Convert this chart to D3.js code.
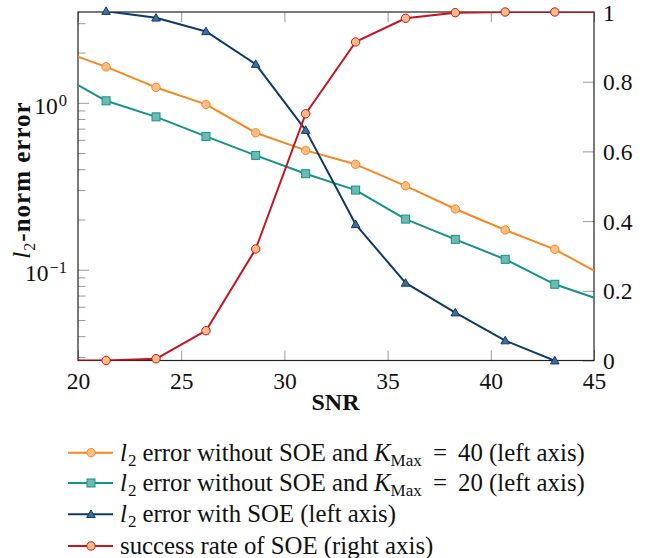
<!DOCTYPE html>
<html>
<head>
<meta charset="utf-8">
<script src="https://cdn.jsdelivr.net/npm/d3@7"></script>
<style>
  html, body { margin: 0; padding: 0; background: #fff; }
  svg { display: block; }
</style>
</head>
<body>
<svg id="chart" width="659" height="558"></svg>
<script>
// ---------------- data ----------------
// SNR positions (outer points lie outside the axis range and are clipped)
const snr = [18.95, 21.36, 23.78, 26.2, 28.61, 31.03, 33.45, 35.87, 38.28, 40.7, 43.1, 45.52];
const errK40 = [2.10, 1.643, 1.236, 0.978, 0.661, 0.519, 0.428, 0.318, 0.231, 0.173, 0.1325, 0.091];
const errK20 = [1.51, 1.028, 0.824, 0.629, 0.484, 0.376, 0.300, 0.201, 0.152, 0.1154, 0.0818, 0.0647];
const errSOE = [null, 3.54, 3.23, 2.677, 1.705, 0.686, 0.187, 0.0833, 0.0553, 0.0376, 0.0285, null];
const successRate = [0, 0, 0.005, 0.0855, 0.32, 0.708, 0.914, 0.982, 0.998, 1, 1, 1];

const xTicks = [20, 25, 30, 35, 40, 45];
const yLeftTicks = [0.1, 1];
const yLeftTickLabels = [["10", "\u22121"], ["10", "0"]];
const yRightTicks = [0, 0.2, 0.4, 0.6, 0.8, 1];
const yRightTickLabels = ["0", "0.2", "0.4", "0.6", "0.8", "1"];
const xLabel = "SNR";

const legendItems = [
  { key: "k40", parts: [["l", "it"], ["2", "sub"], [" error without SOE and ", ""], ["K", "it"], ["Max", "subr"], [" = 40", "eq"], [" (left axis)", ""]] },
  { key: "k20", parts: [["l", "it"], ["2", "sub"], [" error without SOE and ", ""], ["K", "it"], ["Max", "subr"], [" = 20", "eq"], [" (left axis)", ""]] },
  { key: "soe", parts: [["l", "it"], ["2", "sub"], [" error with SOE (left axis)", ""]] },
  { key: "rate", parts: [["success rate of SOE (right axis)", ""]] }
];

// ---------------- styles ----------------
const FONT = "'Liberation Serif', 'Times New Roman', Times, serif";
const styles = {
  k40:  { line: "#f7871f", fill: "#fbbd86", stroke: "#f7871f", marker: "circle", axis: "left" },
  k20:  { line: "#139486", fill: "#6cbab0", stroke: "#139486", marker: "square", axis: "left" },
  soe:  { line: "#0e3a6a", fill: "#3f6d9c", stroke: "#0e3a6a", marker: "triangle", axis: "left" },
  rate: { line: "#c8131f", fill: "#fbbd86", stroke: "#c8131f", marker: "circle", axis: "right" }
};

const L = 78, R = 594, T = 12, B = 360.5;

const svg = d3.select("#chart").style("font-family", FONT);
const x = d3.scaleLinear().domain([20, 45]).range([L, R]);
const yL = d3.scaleLog().domain([0.02858, 3.5]).range([B, T]);
const yR = d3.scaleLinear().domain([0, 1]).range([B, T]);

svg.append("defs").append("clipPath").attr("id", "clip")
  .append("rect").attr("x", L).attr("y", T).attr("width", R - L).attr("height", B - T);

function txt(sel) { return sel.style("font-family", FONT).attr("fill", "#111"); }

// ---------------- axes ----------------
const tickColor = "#9a9a9a";
function styleAxis(g) {
  g.attr("font-family", null).style("font-family", FONT);
  g.select(".domain").remove();
  g.selectAll(".tick line").attr("stroke", tickColor).attr("stroke-width", 1);
}

// bottom
const gB = svg.append("g").attr("transform", `translate(0,${B})`)
  .call(d3.axisBottom(x).tickValues(xTicks).tickSize(-10).tickPadding(12).tickFormat(d3.format("d")));
styleAxis(gB);
txt(gB.selectAll(".tick text")).style("font-size", "23.5px");
// top (ticks only)
const gT = svg.append("g").attr("transform", `translate(0,${T})`)
  .call(d3.axisTop(x).tickValues(xTicks).tickSize(-10).tickFormat(""));
styleAxis(gT);

// left log axis: minor + major ticks
const minorVals = [];
[0.01, 0.1, 1].forEach(dec => { for (let k = 2; k <= 9; k++) { const v = k * dec; if (v >= yL.domain()[0] && v <= yL.domain()[1]) minorVals.push(v); } });
const gLm = svg.append("g").attr("transform", `translate(${L},0)`)
  .call(d3.axisLeft(yL).tickValues(minorVals).tickSize(-7.5).tickFormat(""));
styleAxis(gLm);
const gL = svg.append("g").attr("transform", `translate(${L},0)`)
  .call(d3.axisLeft(yL).tickValues(yLeftTicks).tickSize(-11).tickFormat(""));
styleAxis(gL);
yLeftTicks.forEach((v, i) => {
  const t = txt(svg.append("text")).attr("x", 67).attr("y", yL(v) + 11)
    .attr("text-anchor", "end").style("font-size", "23.5px");
  t.append("tspan").text(yLeftTickLabels[i][0]);
  t.append("tspan").attr("dx", 1).attr("dy", -8).style("font-size", "16.5px").text(yLeftTickLabels[i][1]);
});

// right axis
const gR = svg.append("g").attr("transform", `translate(${R},0)`)
  .call(d3.axisRight(yR).tickValues(yRightTicks).tickSize(-11).tickPadding(9)
    .tickFormat((d, i) => yRightTickLabels[i]));
styleAxis(gR);
txt(gR.selectAll(".tick text")).style("font-size", "23.5px").attr("dy", "0.34em");

// frame
svg.append("rect").attr("x", L).attr("y", T).attr("width", R - L).attr("height", B - T)
  .attr("fill", "none").attr("stroke", "#222").attr("stroke-width", 1.2);

// ---------------- series ----------------
const series = [
  { key: "k40", values: errK40 },
  { key: "k20", values: errK20 },
  { key: "soe", values: errSOE },
  { key: "rate", values: successRate }
];

function drawMarker(g, type, cx, cy, st) {
  if (type === "circle") {
    g.append("circle").attr("cx", cx).attr("cy", cy).attr("r", 4.2)
      .attr("fill", st.fill).attr("stroke", st.stroke).attr("stroke-width", 1);
  } else if (type === "square") {
    g.append("rect").attr("x", cx - 4).attr("y", cy - 4).attr("width", 8).attr("height", 8)
      .attr("fill", st.fill).attr("stroke", st.stroke).attr("stroke-width", 1);
  } else {
    const s = 4.3;
    g.append("path").attr("d", `M${cx},${cy - s} L${cx + s},${cy + s * 0.75} L${cx - s},${cy + s * 0.75} Z`)
      .attr("fill", st.fill).attr("stroke", st.stroke).attr("stroke-width", 1);
  }
}

const lineLayer = svg.append("g").attr("clip-path", "url(#clip)");
const markerLayer = svg.append("g");
series.forEach(s => {
  const st = styles[s.key];
  const ys = st.axis === "left" ? yL : yR;
  const pts = snr.map((v, i) => [v, s.values[i]]);
  const line = d3.line().defined(d => d[1] !== null).x(d => x(d[0])).y(d => ys(d[1]));
  lineLayer.append("path").attr("d", line(pts)).attr("fill", "none")
    .attr("stroke", st.line).attr("stroke-width", 2).attr("stroke-linejoin", "round");
  pts.forEach(d => {
    if (d[1] === null || d[0] < 20 || d[0] > 45) return;
    drawMarker(markerLayer, st.marker, x(d[0]), ys(d[1]), st);
  });
});

// ---------------- labels ----------------
txt(svg.append("text")).attr("x", (L + R) / 2 - 0.5).attr("y", 410).attr("text-anchor", "middle")
  .style("font-size", "24px").style("font-weight", "bold").text(xLabel);

const yl = txt(svg.append("text")).attr("transform", "translate(30,180) rotate(-90)")
  .attr("text-anchor", "middle").style("font-size", "25px").style("font-weight", "bold")
  .style("letter-spacing", "1px");
yl.append("tspan").style("font-style", "italic").style("font-weight", "normal").text("l");
yl.append("tspan").style("font-size", "16px").style("font-weight", "normal").attr("dy", 5).text("2");
yl.append("tspan").attr("dy", -5).text("-norm error");

// ---------------- legend ----------------
const rowsY = [452.7, 483, 514.3, 546];
legendItems.forEach((it, i) => {
  const st = styles[it.key];
  const y0 = rowsY[i];
  svg.append("line").attr("x1", 68).attr("x2", 113).attr("y1", y0).attr("y2", y0)
    .attr("stroke", st.line).attr("stroke-width", 2);
  drawMarker(svg, st.marker, 91, y0, st);
  const t = txt(svg.append("text")).attr("x", 120).attr("y", y0 + 8).style("font-size", "24.8px");
  let shift = 0;
  it.parts.forEach(([s, kind]) => {
    const sp = t.append("tspan").text(s);
    if (kind === "it") { sp.style("font-style", "italic"); if (shift) { sp.attr("dy", -shift); shift = 0; } }
    else if (kind === "sub" || kind === "subr") {
      sp.style("font-size", "17px").attr("dy", 5); shift = 5;
      if (kind === "sub") sp.attr("dx", 1);
    } else if (shift) { sp.attr("dy", -shift); shift = 0; }
    if (kind === "eq") sp.style("word-spacing", "5px");
  });
});
</script>
</body>
</html>
